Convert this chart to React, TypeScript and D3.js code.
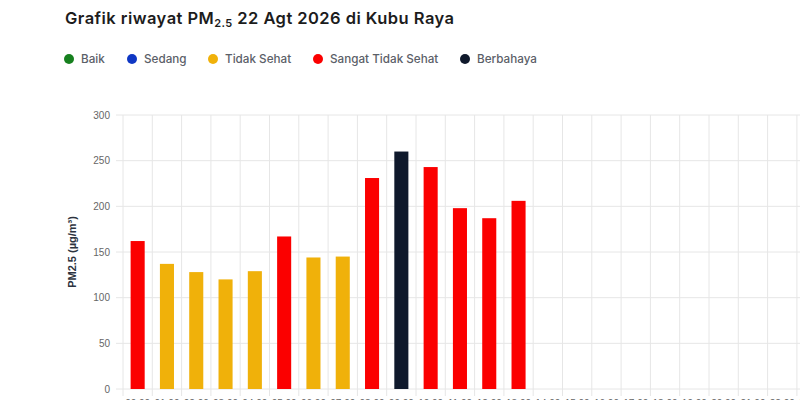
import React from 'react';
import * as d3 from 'd3';

const hours = [
  '00:00', '01:00', '02:00', '03:00', '04:00', '05:00', '06:00', '07:00',
  '08:00', '09:00', '10:00', '11:00', '12:00', '13:00', '14:00', '15:00',
  '16:00', '17:00', '18:00', '19:00', '20:00', '21:00', '22:00', '23:00',
];
const pm25 = [162, 137, 128, 120, 129, 167, 144, 145, 231, 260, 243, 198, 187, 206];

const levelNames = ['Baik', 'Sedang', 'Tidak Sehat', 'Sangat Tidak Sehat', 'Berbahaya'];
const levelColors = ['#16801e', '#0f37c4', '#f0b10a', '#fb0000', '#0f192c'];
const levelBreaks = [15.5, 55.4, 150.4, 250.4];
const legendX = [69, 132, 213, 318, 465];

const yTicks = [0, 50, 100, 150, 200, 250, 300];

const App: React.FC = () => {
  const width = 800;
  const height = 400;
  const top = 115;
  const bottom = 389;
  const left = 123;
  const step = 29.3;

  const x = d3.scaleBand<string>()
    .domain(hours)
    .range([left, left + step * hours.length]);

  const y = d3.scaleLinear()
    .domain([0, 300])
    .range([bottom, top]);

  const color = d3.scaleThreshold<number, string>()
    .domain(levelBreaks)
    .range(levelColors);

  const barW = x.bandwidth() * 0.48;
  const right = left + step * hours.length;
  const grid = '#e6e6e6';

  return (
    <div style={{ position: 'fixed', left: 0, top: 0, width, height, overflow: 'hidden', background: '#fff' }}>
      <svg width={width} height={height} style={{ display: 'block' }}>
        <text x={65} y={24} fontFamily="Inter, 'Noto Sans', sans-serif" fontSize={16.5} fontWeight={600}
          letterSpacing={0.45} fill="#1c1c1c">
          Grafik riwayat PM
          <tspan fontSize={11} dy={3}>2.5</tspan>
          <tspan dy={-3}> 22 Agt 2026 di Kubu Raya</tspan>
        </text>

        {levelNames.map((name, i) => (
          <g key={name} transform={`translate(${legendX[i]}, 59)`}>
            <circle r={5} fill={levelColors[i]} />
            <text x={12} dy="0.35em" fontFamily="Inter, 'Noto Sans', sans-serif" fontSize={11.7} fontWeight={500} fill="#5b6068">
              {name}
            </text>
          </g>
        ))}

        {yTicks.map(t => (
          <g key={t}>
            <line x1={left - 7} x2={right} y1={y(t)} y2={y(t)} stroke={grid} />
            <text x={left - 13} y={y(t)} dy="0.35em" textAnchor="end"
              fontFamily="'Liberation Sans', Arial, sans-serif" fontSize={10} fill="#666">
              {t}
            </text>
          </g>
        ))}

        {hours.map((h, i) => (
          <g key={h}>
            <line x1={x(h)} x2={x(h)} y1={top} y2={bottom + 7} stroke={grid} />
            {i === hours.length - 1 && (
              <line x1={right} x2={right} y1={top} y2={bottom + 7} stroke={grid} />
            )}
            <text x={(x(h) ?? 0) + x.bandwidth() / 2} y={bottom + 17.5}
              textAnchor="middle" fontFamily="'Liberation Sans', Arial, sans-serif" fontSize={10} fill="#666">
              {h}
            </text>
          </g>
        ))}

        {pm25.map((v, i) => (
          <rect
            key={hours[i]}
            x={(x(hours[i]) ?? 0) + (x.bandwidth() - barW) / 2}
            y={y(v)}
            width={barW}
            height={y(0) - y(v)}
            fill={color(v)}
          />
        ))}

        <text transform={`translate(76, ${(top + bottom) / 2}) rotate(-90)`} textAnchor="middle"
          fontFamily="'Liberation Sans', Arial, sans-serif" fontSize={11} fontWeight={600} fill="#2c3340">
          PM2.5 (µg/m³)
        </text>
      </svg>
    </div>
  );
};

export default App;
